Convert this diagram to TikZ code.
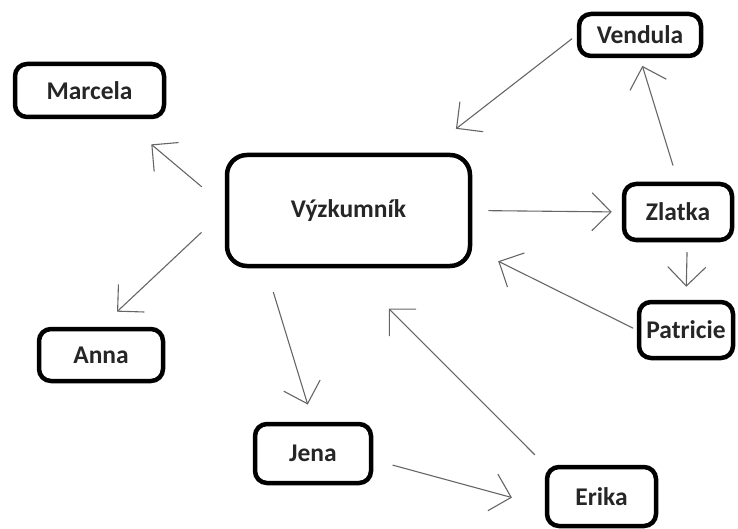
\documentclass[tikz,border=0pt]{standalone}
\usepackage{fontspec}
\setmainfont{Carlito}
\usepackage{tikz}
\usetikzlibrary{arrows.meta,positioning,calc}
\tikzstyle{Pbox}=[shape=rectangle,draw=black,line width=4.5pt,rounded corners=12pt,inner sep=0pt,text=black!85,font=\fontsize{25.5}{30}\selectfont\bfseries]
\tikzstyle{Rbox}=[Pbox,rounded corners=20pt]
\tikzstyle{lightedge}=[-{Straight Barb[length=19pt,width=38pt]},draw=black!60,line width=1.1pt]

\begin{document}
\begin{tikzpicture}[x=1pt,y=-1pt]
 \useasboundingbox (0,0) rectangle (738,529);

 \node[Rbox,minimum width=243pt,minimum height=111pt] (VYZ) at (348.5,210.5){Výzkumník};

 \node[Pbox,minimum width=149pt,minimum height=53pt] (MAR) at (89.5,90.5){Marcela};
 \node[Pbox,minimum width=124pt,minimum height=52pt] (ANN) at (101,355){Anna};
 \node[Pbox,minimum width=116pt,minimum height=59pt] (JEN) at (313,453.5){Jena};
 \node[Pbox,minimum width=109pt,minimum height=59pt] (ERI) at (601.5,496.5){Erika};

 \node[Pbox,minimum width=122pt,minimum height=42pt] (VEN) at (640,35){Vendula};
 \node[Pbox,minimum width=108pt,minimum height=56pt] (ZLA) at (678,212){Zlatka};
 \node[Pbox,minimum width=94pt,minimum height=56pt] (PAT) at (686,330){Patricie};

\path
(VYZ.178) edge [lightedge,shorten <=30pt,shorten >=39pt] (MAR.-42)
(VYZ.west) edge [lightedge,shorten <=32pt,shorten >=22pt] (ANN.north)
(VYZ.-145) edge [lightedge,shorten <=25pt,shorten >=18pt] (JEN.north)
(VYZ.east) edge [lightedge,shorten <=16pt,shorten >=10pt] (ZLA.west)

(ZLA.north) edge [lightedge,shorten <=17pt,shorten >=8pt] (VEN.south)
(VEN.west) edge [lightedge,shorten <=6pt,shorten >=39pt] (VYZ.37)
(ZLA.-73) edge [lightedge,shorten <=10pt,shorten >=13pt] (PAT.north)
(PAT.west) edge [lightedge,shorten <=4pt,shorten >=29pt] (VYZ.-17)

(JEN.-6) edge [lightedge,shorten <=20pt,shorten >=34pt] (ERI.-170)
(ERI.north west) edge [lightedge,shorten <=14pt,shorten >=57pt] (VYZ.south);

\end{tikzpicture}
\end{document}
